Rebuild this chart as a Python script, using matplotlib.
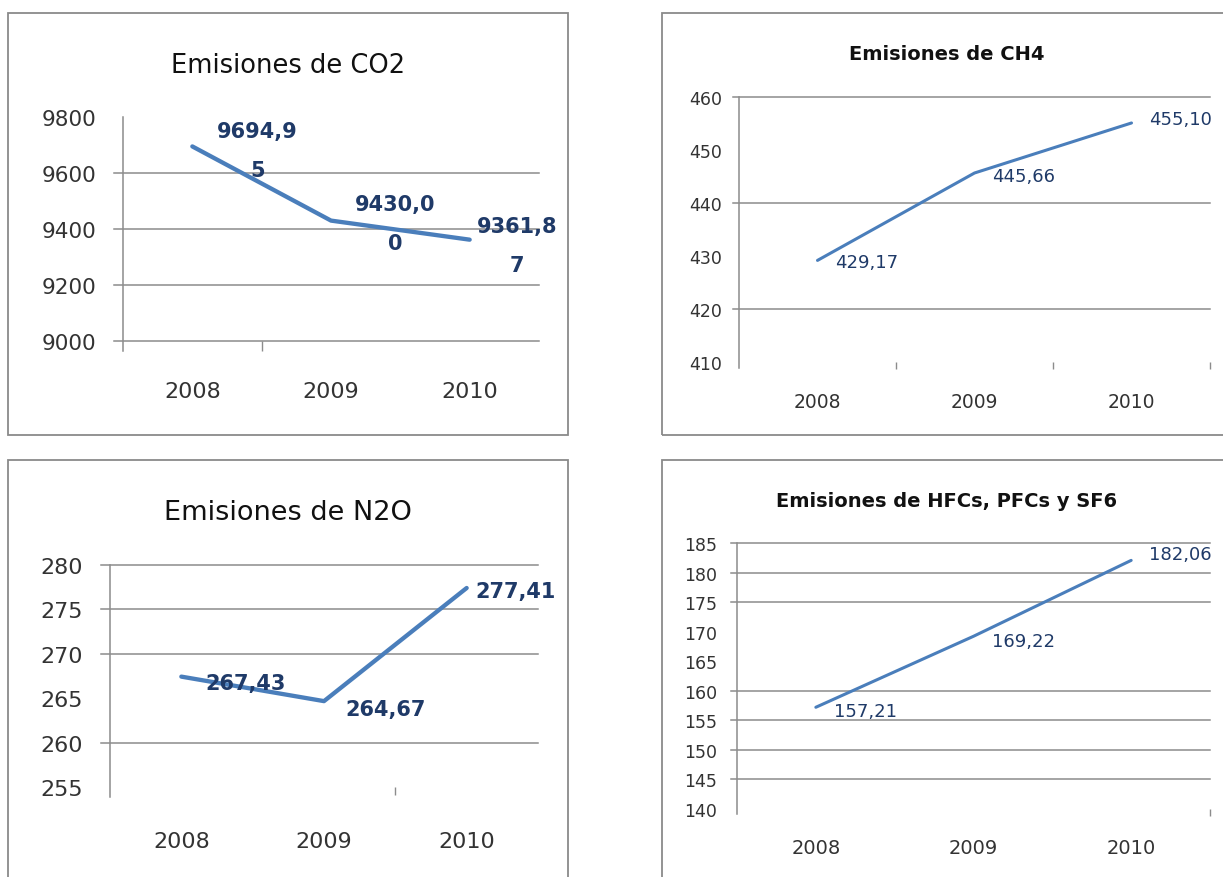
import matplotlib
matplotlib.use("Agg")
import matplotlib.pyplot as plt
from matplotlib.patches import Rectangle
from matplotlib.transforms import blended_transform_factory

# ============================================================
# DATA
# ============================================================

years = ["2008", "2009", "2010"]

co2 = [9694.95, 9430.00, 9361.87]
ch4 = [429.17, 445.66, 455.10]
n2o = [267.43, 264.67, 277.41]
hfc = [157.21, 169.22, 182.06]

co2_labels = ["9694,9\n5", "9430,0\n0", "9361,8\n7"]
ch4_labels = ["429,17", "445,66", "455,10"]
n2o_labels = ["267,43", "264,67", "277,41"]
hfc_labels = ["157,21", "169,22", "182,06"]

co2_ticks = [9000, 9200, 9400, 9600, 9800]
ch4_ticks = [410, 420, 430, 440, 450, 460]
n2o_ticks = [255, 260, 265, 270, 275, 280]
hfc_ticks = [140, 145, 150, 155, 160, 165, 170, 175, 180, 185]

# gridlines that are still visible in the (blurry) source image
co2_grid = [9000, 9200, 9400, 9600]
ch4_grid = [420, 440, 460]
n2o_grid = [260, 270, 275, 280]
hfc_grid = [145, 150, 155, 160, 175, 180, 185]

titles = [
    "Emisiones de CO2",
    "Emisiones de CH4",
    "Emisiones de N2O",
    "Emisiones de HFCs, PFCs y SF6",
]

# ============================================================
# STYLE
# ============================================================

W, H = 1223, 878
LINE_COLOR = "#4A7EBB"
LABEL_COLOR = "#1F3A68"
GRID_COLOR = "#8c8c8c"
BOX_COLOR = "#8a8a8a"
TICK_COLOR = "#333333"

fig = plt.figure(figsize=(W / 100, H / 100), dpi=100)
fig.patch.set_facecolor("white")


def add_axes_px(left, top, right, bottom):
    return fig.add_axes([left / W, 1 - bottom / H,
                         (right - left) / W, (bottom - top) / H])


def add_box_px(left, top, right, bottom):
    fig.add_artist(Rectangle((left / W, 1 - bottom / H),
                             (right - left) / W, (bottom - top) / H,
                             transform=fig.transFigure, fill=False,
                             edgecolor=BOX_COLOR, linewidth=1.3))


def draw_panel(spec):
    add_box_px(*spec["box"])
    fig.text(spec["title_xy"][0] / W, 1 - spec["title_xy"][1] / H,
             spec["title"], ha="center", va="center_baseline",
             fontsize=spec["title_fs"], fontweight=spec["title_fw"],
             color="#111111")

    ax = add_axes_px(*spec["axes"])
    left, top, right, bottom = spec["axes"]
    width_px = right - left
    height_px = bottom - top

    ax.set_xlim(-0.5, 2.5)
    ax.set_ylim(spec["ticks"][0], spec["ticks"][-1])
    for s in ax.spines.values():
        s.set_visible(False)

    # y ticks / labels
    ax.set_yticks(spec["ticks"])
    ax.set_yticklabels([str(t) for t in spec["ticks"]])
    ax.tick_params(axis="y", length=0, pad=spec["ytick_pad"] / 1.389,
                   labelsize=spec["tick_fs"], labelcolor=TICK_COLOR)

    # x: category boundaries as small ticks, years as text
    ax.set_xticks([])
    ax.set_xticks(spec["xminor"], minor=True)
    ax.tick_params(axis="x", which="minor", length=spec["xtick_len"],
                   width=1.0, color=GRID_COLOR, direction="out")
    trans = blended_transform_factory(ax.transData, ax.transAxes)
    for i, yr in enumerate(years):
        ax.text(i, spec["year_y"], yr, transform=trans, ha="center",
                va="center_baseline", fontsize=spec["year_fs"],
                color=TICK_COLOR)

    # gridlines (extend a little left of the axis like the original)
    for g in spec["grid"]:
        ax.axhline(g, xmin=-spec["grid_ext"] / width_px, xmax=1,
                   color=GRID_COLOR, linewidth=1.1, clip_on=False, zorder=1)
    # vertical axis line
    ax.axvline(-0.5, ymin=-spec["axis_ext"] / height_px, ymax=1,
               color=GRID_COLOR, linewidth=1.1, clip_on=False, zorder=1)

    x = list(range(len(years)))
    ax.plot(x, spec["values"], color=LINE_COLOR, linewidth=spec["lw"],
            solid_capstyle="round", solid_joinstyle="round", zorder=3)

    for i, (v, lab) in enumerate(zip(spec["values"], spec["labels"])):
        dx, dy = spec["label_off"][i]
        ax.annotate(lab, (i, v), xytext=(dx, dy), textcoords="offset pixels",
                    ha=spec["label_ha"], va=spec["label_va"],
                    fontsize=spec["label_fs"], fontweight=spec["label_fw"],
                    color=LABEL_COLOR, linespacing=2.2,
                    multialignment="center", zorder=4,
                    annotation_clip=False)
    return ax


panels = [
    dict(title=titles[0], values=co2, labels=co2_labels, ticks=co2_ticks,
         grid=co2_grid, box=(8, 14, 568, 436), axes=(123, 118, 539, 342),
         title_xy=(288, 63), title_fs=18.5, title_fw="normal",
         tick_fs=15.5, ytick_pad=27, year_fs=16, year_y=-0.214,
         grid_ext=9, axis_ext=10, xminor=[0.5], xtick_len=7, lw=3.1,
         label_fs=15, label_fw="bold", label_ha="center", label_va="center",
         label_off=[(65, -4), (64, -3), (47, -6)]),
    dict(title=titles[1], values=ch4, labels=ch4_labels, ticks=ch4_ticks,
         grid=ch4_grid, box=(662, 14, 1232, 436), axes=(739, 98, 1210, 363),
         title_xy=(947, 53), title_fs=14, title_fw="bold",
         tick_fs=12.5, ytick_pad=17, year_fs=13.5, year_y=-0.14,
         grid_ext=6, axis_ext=6, xminor=[0.5, 1.5, 2.5], xtick_len=5, lw=2.2,
         label_fs=13, label_fw="normal", label_ha="left",
         label_va="center_baseline",
         label_off=[(18, 0), (18, -1), (18, 6)]),
    dict(title=titles[2], values=n2o, labels=n2o_labels, ticks=n2o_ticks,
         grid=n2o_grid, box=(8, 461, 568, 890), axes=(110, 566, 538, 788),
         title_xy=(288, 510), title_fs=19.5, title_fw="normal",
         tick_fs=16, ytick_pad=27, year_fs=16, year_y=-0.234,
         grid_ext=9, axis_ext=10, xminor=[1.5], xtick_len=6, lw=3.1,
         label_fs=15, label_fw="bold", label_ha="center",
         label_va="center_baseline",
         label_off=[(64, -4), (62, -6), (49, -1)]),
    dict(title=titles[3], values=hfc, labels=hfc_labels, ticks=hfc_ticks,
         grid=hfc_grid, box=(662, 461, 1232, 890), axes=(737, 544, 1210, 810),
         title_xy=(947, 500), title_fs=14, title_fw="bold",
         tick_fs=12.5, ytick_pad=20, year_fs=14, year_y=-0.139,
         grid_ext=6, axis_ext=5, xminor=[2.5], xtick_len=5, lw=2.2,
         label_fs=13, label_fw="normal", label_ha="left",
         label_va="center_baseline",
         label_off=[(18, -2), (18, -3), (18, 8)]),
]

for spec in panels:
    draw_panel(spec)

fig.savefig("out.png", dpi=100, facecolor="white")
plt.close(fig)
